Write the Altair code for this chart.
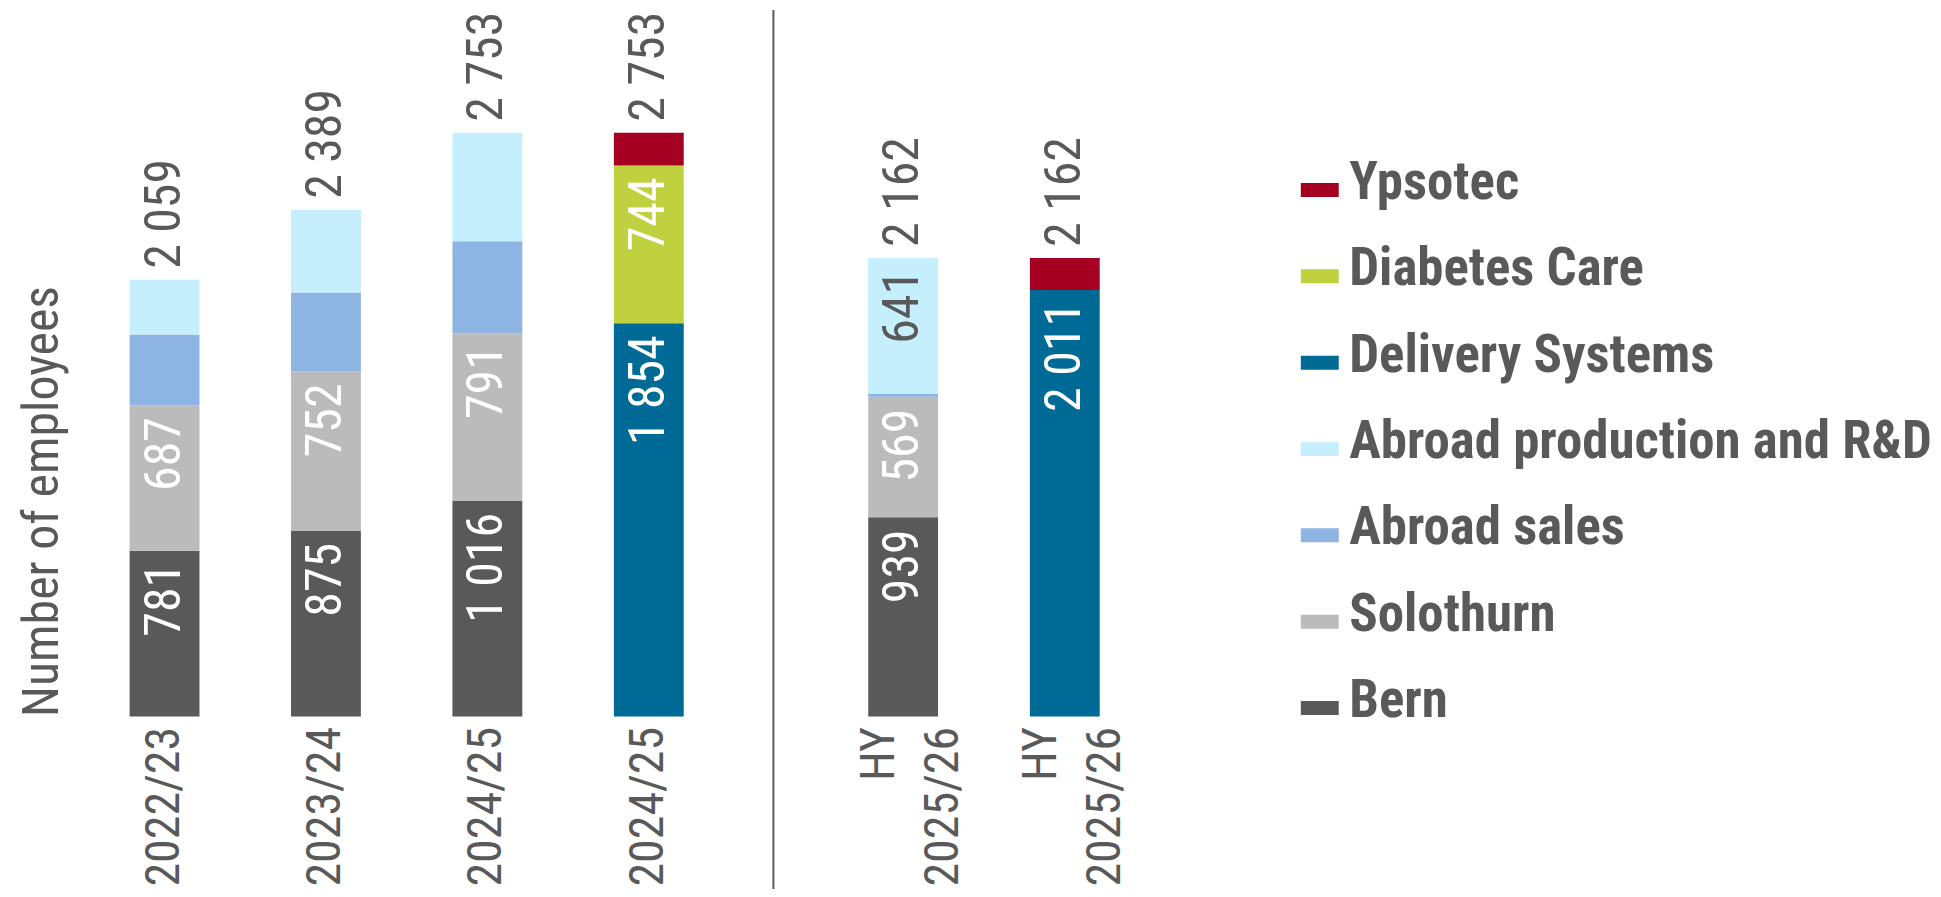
import altair as alt
import pandas as pd

# ---- data ----
bars = ["2022/23", "2023/24", "2024/25", "2024/25|2", "HY 2025/26", "HY 2025/26|2"]
panels = ["main", "main", "main", "main", "half", "half"]
totals = [2059, 2389, 2753, 2753, 2162, 2162]

series = ["Ypsotec", "Diabetes Care", "Delivery Systems",
          "Abroad production and R&D", "Abroad sales", "Solothurn", "Bern"]
colors = ["#A50021", "#C0D140", "#006A97", "#C5EFFC", "#8EB4E3", "#BBBBBB", "#595959"]

bern = [781, 875, 1016, 0, 939, 0]
solothurn = [687, 752, 791, 0, 569, 0]
abroad_sales = [333, 372, 434, 0, 13, 0]
abroad_prod = [258, 390, 512, 0, 641, 0]
delivery = [0, 0, 0, 1854, 0, 2011]
diabetes = [0, 0, 0, 744, 0, 0]
ypsotec = [0, 0, 0, 155, 0, 151]

# which segments carry a value label
labelled = [
    ("2022/23", "Bern"), ("2022/23", "Solothurn"),
    ("2023/24", "Bern"), ("2023/24", "Solothurn"),
    ("2024/25", "Bern"), ("2024/25", "Solothurn"),
    ("2024/25|2", "Delivery Systems"), ("2024/25|2", "Diabetes Care"),
    ("HY 2025/26", "Bern"), ("HY 2025/26", "Solothurn"), ("HY 2025/26", "Abroad production and R&D"),
    ("HY 2025/26|2", "Delivery Systems"),
]

# ---- tables ----
stack_order = ["Bern", "Solothurn", "Abroad sales", "Abroad production and R&D",
               "Delivery Systems", "Diabetes Care", "Ypsotec"]
vals = {"Bern": bern, "Solothurn": solothurn, "Abroad sales": abroad_sales,
        "Abroad production and R&D": abroad_prod, "Delivery Systems": delivery,
        "Diabetes Care": diabetes, "Ypsotec": ypsotec}


def fmt(v):
    return f"{v:,}".replace(",", " ")


rows = []
for i, b in enumerate(bars):
    for k, s in enumerate(stack_order):
        v = vals[s][i]
        rows.append({"bar": b, "panel": panels[i], "series": s, "order": k, "value": v,
                     "show": (b, s) in labelled, "lbl": fmt(v)})
df = pd.DataFrame(rows)
tot_df = pd.DataFrame({"bar": bars, "panel": panels, "total": totals,
                       "lbl": [fmt(t) for t in totals]})

F = "Liberation Sans Narrow, Arial Narrow, Roboto Condensed, DejaVu Sans Condensed, sans-serif"
GRAY = "#595959"
FS = 50
YDOM = [0, 3294]
H = 700


def xaxis(expr, offset):
    return alt.Axis(labelExpr=expr, orient="bottom",
                    labelAngle=270, labelAlign="right", labelBaseline="middle",
                    labelFont=F, labelFontSize=48, labelColor=GRAY, labelPadding=10,
                    labelOverlap=False, labelLimit=400, labelOffset=offset,
                    ticks=False, domain=False, grid=False)


def panel(p, width, pin, show_axis):
    cats = [b for b, pp in zip(bars, panels) if pp == p]
    xscale = alt.Scale(domain=cats, paddingInner=pin, paddingOuter=pin / 2)
    yscale = alt.Scale(domain=YDOM, nice=False, zero=True)

    base = (alt.Chart(df)
            .transform_filter(alt.datum.panel == p)
            .transform_window(cum="sum(value)", groupby=["bar"],
                              sort=[alt.SortField("order", order="ascending")], frame=[None, 0])
            .transform_calculate(start="datum.cum - datum.value")
            .transform_filter(alt.datum.value > 0))

    legend = alt.Legend(orient="none", legendX=1212, legendY=139, title=None,
                        labelFont=F, labelFontSize=53, labelFontWeight="bold",
                        labelColor=GRAY, symbolType="M-1,0H1V0.737H-1Z",
                        symbolSize=1444, symbolStrokeWidth=0, rowPadding=32.5,
                        labelLimit=900, labelOffset=3, padding=0)
    color = alt.Color("series:N", scale=alt.Scale(domain=series, range=colors), legend=legend)
    lbl_color = alt.condition(alt.datum.series == "Abroad production and R&D",
                              alt.value(GRAY), alt.value("white"))

    if show_axis:
        yax = alt.Axis(title="Number of employees", labels=False, ticks=False, domain=False,
                       grid=False, titleFont=F, titleFontSize=FS, titleColor=GRAY,
                       titleFontWeight="normal", titlePadding=16, titleAnchor="start")
        x_seg = alt.X("bar:N", sort=cats, title=None, scale=xscale,
                      axis=xaxis("split(datum.value, '|')[0]", 0))
        x_inner = alt.X("bar:N", sort=cats)
        x_tot = alt.X("bar:N", sort=cats)
    else:
        yax = None
        # two-line category labels: first word on one axis line, year on the other
        x_seg = alt.X("bar:N", sort=cats, title=None, scale=xscale,
                      axis=xaxis("split(split(datum.value, '|')[0], ' ')[0]", -23))
        x_inner = alt.X("bar:N", sort=cats, title=None,
                        axis=xaxis("split(split(datum.value, '|')[0], ' ')[1]", 41))
        x_tot = alt.X("bar:N", sort=cats, axis=None)

    seg = base.mark_bar().encode(
        x=x_seg,
        y=alt.Y("start:Q", scale=yscale, axis=yax,
                title="Number of employees" if show_axis else None),
        y2="cum:Q",
        color=color,
    )
    inner = base.transform_filter(alt.datum.show).mark_text(
        angle=270, align="right", baseline="middle", dx=-12, font=F, fontSize=FS
    ).encode(
        x=x_inner,
        y=alt.Y("cum:Q", scale=yscale),
        text="lbl:N",
        color=lbl_color,
    )
    tot = alt.Chart(tot_df).transform_filter(alt.datum.panel == p).mark_text(
        angle=270, align="left", baseline="middle", dx=11, font=F, fontSize=FS, color=GRAY
    ).encode(
        x=x_tot,
        y=alt.Y("total:Q", scale=yscale),
        text="lbl:N",
    )
    layers = [seg, inner, tot]
    if not show_axis:
        rule = alt.Chart(pd.DataFrame({"d": [0]})).mark_rule(color=GRAY, strokeWidth=2).encode(
            x=alt.value(-49), y=alt.value(-8), y2=alt.value(873))
        layers.append(rule)
    lay = alt.layer(*layers).properties(width=width, height=H)
    if not show_axis:
        lay = lay.resolve_axis(x="independent")
    return lay


left = panel("main", 647, 0.5672, True)
right = panel("half", 324, 0.568, False)

chart = (alt.hconcat(left, right, spacing=93, bounds="flush")
         .resolve_scale(color="shared")
         .properties(padding={"left": 10, "top": 0, "right": 0, "bottom": 0})
         .configure_view(stroke=None))

chart.save("out.html", embed_options={"renderer": "svg", "actions": False})
